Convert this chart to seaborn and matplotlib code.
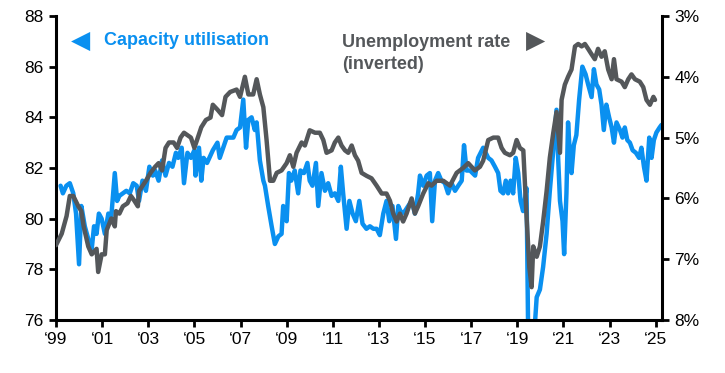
import matplotlib
matplotlib.use("Agg")
import matplotlib.pyplot as plt
import seaborn as sns

# Capacity utilisation (%), left axis
cu_years = [
    1999.2, 1999.3, 1999.45, 1999.6, 1999.75, 1999.87, 2000.0, 2000.1, 2000.25, 2000.4,
    2000.55, 2000.65, 2000.76, 2000.86, 2000.98, 2001.12, 2001.27, 2001.4, 2001.55, 2001.65,
    2001.75, 2001.9, 2002.05, 2002.2, 2002.35, 2002.5, 2002.6, 2002.75, 2002.9, 2003.05,
    2003.2, 2003.3, 2003.45, 2003.6, 2003.75, 2003.9, 2004.05, 2004.2, 2004.3, 2004.45,
    2004.55, 2004.7, 2004.85, 2005.0, 2005.05, 2005.2, 2005.3, 2005.4, 2005.55, 2005.8,
    2006.0, 2006.1, 2006.25, 2006.4, 2006.54, 2006.69, 2006.83, 2006.98, 2007.12, 2007.24,
    2007.34, 2007.48, 2007.62, 2007.7, 2007.84, 2007.99, 2008.06, 2008.2, 2008.35, 2008.49,
    2008.64, 2008.78, 2008.85, 2009.0, 2009.1, 2009.2, 2009.35, 2009.5, 2009.6, 2009.75,
    2009.9, 2010.0, 2010.12, 2010.27, 2010.37, 2010.51, 2010.66, 2010.8, 2010.95, 2011.09,
    2011.24, 2011.35, 2011.45, 2011.6, 2011.72, 2011.86, 2012.0, 2012.15, 2012.29, 2012.46,
    2012.61, 2012.76, 2012.9, 2013.04, 2013.19, 2013.33, 2013.45, 2013.59, 2013.74, 2013.84,
    2013.98, 2014.13, 2014.27, 2014.42, 2014.56, 2014.7, 2014.78, 2014.92, 2015.07, 2015.21,
    2015.31, 2015.43, 2015.57, 2015.71, 2015.86, 2016.0, 2016.15, 2016.3, 2016.44, 2016.59,
    2016.69, 2016.8, 2016.95, 2017.17, 2017.3, 2017.52, 2017.74, 2017.88, 2018.03, 2018.17,
    2018.27, 2018.39, 2018.5, 2018.6, 2018.71, 2018.82, 2018.93, 2019.04, 2019.14, 2019.25,
    2019.4, 2019.47, 2019.55, 2019.68, 2019.76, 2019.84, 2019.98, 2020.12, 2020.27, 2020.41,
    2020.56, 2020.7, 2020.77, 2020.85, 2020.96, 2021.03, 2021.13, 2021.2, 2021.27, 2021.35,
    2021.45, 2021.56, 2021.68, 2021.82, 2021.96, 2022.07, 2022.22, 2022.32, 2022.43, 2022.55,
    2022.65, 2022.75, 2022.86, 2022.98, 2023.09, 2023.19, 2023.3, 2023.45, 2023.56, 2023.66,
    2023.77, 2023.88, 2024.0, 2024.14, 2024.28, 2024.38, 2024.49, 2024.6, 2024.72, 2024.82,
    2024.92, 2025.03, 2025.17, 2025.25,
]
cu_values = [
    81.3, 81.0, 81.3, 81.4, 81.0, 80.2, 78.2, 80.5, 79.7, 79.2,
    78.8, 79.7, 79.4, 80.2, 80.0, 79.4, 80.2, 80.1, 81.8, 80.7,
    80.9, 81.0, 81.1, 81.0, 81.4, 81.3, 80.7, 81.5, 81.1, 82.05,
    81.7, 81.9, 81.5, 82.3, 81.7, 82.2, 82.05, 82.6, 82.4, 82.8,
    81.4, 82.6, 82.4, 82.7, 81.7, 82.8, 81.5, 82.4, 82.2, 82.7,
    83.0, 82.4, 82.8, 83.2, 83.2, 83.2, 83.5, 83.6, 84.7, 82.8,
    83.9, 84.0, 83.5, 83.8, 82.3, 81.5, 81.3, 80.5, 79.7, 79.0,
    79.3, 79.4, 80.5, 79.9, 81.8, 81.5, 81.9, 81.0, 81.9, 81.8,
    82.2, 81.5, 81.3, 82.2, 80.5, 81.8, 81.1, 81.4, 80.9, 81.0,
    80.7, 82.05, 81.0, 79.6, 80.7, 80.2, 79.9, 80.7, 79.8, 79.6,
    79.7, 79.6, 79.6, 79.35, 80.2, 80.7, 79.9, 80.5, 79.2, 80.5,
    80.2, 80.3, 80.5, 80.7, 80.2, 81.0, 81.7, 81.3, 81.7, 81.8,
    79.9, 81.5, 81.8, 81.5, 81.4, 81.0, 81.4, 81.1, 81.3, 81.5,
    82.9, 81.9, 81.9, 81.7, 82.4, 82.8, 82.4, 82.3, 82.05, 81.8,
    81.1, 81.0, 81.5, 81.0, 81.5, 81.0, 82.4, 81.8, 80.7, 80.3,
    81.2, 75.5, 73.0, 73.5, 75.8, 76.9, 77.2, 78.1, 79.4, 81.1,
    82.7, 84.3, 82.4, 80.7, 79.9, 78.6, 81.0, 83.8, 82.7, 81.8,
    82.9, 83.3, 84.7, 86.0, 85.7, 85.3, 84.8, 85.9, 85.3, 85.1,
    84.5, 83.5, 84.5, 84.0, 83.6, 83.0, 83.8, 83.5, 83.2, 83.6,
    83.1, 83.0, 82.7, 82.6, 82.4, 82.8, 82.05, 81.5, 83.2, 82.4,
    83.1, 83.4, 83.6, 83.7,
]

# Unemployment rate (%), right axis (inverted)
ur_years = [
    1999.0, 1999.25, 1999.46, 1999.6, 1999.75, 1999.97, 2000.1, 2000.2, 2000.4, 2000.55,
    2000.76, 2000.83, 2000.98, 2001.12, 2001.2, 2001.4, 2001.55, 2001.6, 2001.75, 2001.9,
    2002.1, 2002.25, 2002.4, 2002.55, 2002.6, 2002.9, 2003.1, 2003.3, 2003.45, 2003.6,
    2003.75, 2003.9, 2004.1, 2004.25, 2004.4, 2004.55, 2004.7, 2004.85, 2005.0, 2005.15,
    2005.3, 2005.5, 2005.7, 2005.8, 2006.0, 2006.2, 2006.35, 2006.55, 2006.83, 2006.98,
    2007.19, 2007.34, 2007.55, 2007.7, 2007.84, 2007.99, 2008.13, 2008.28, 2008.42, 2008.57,
    2008.78, 2009.0, 2009.14, 2009.29, 2009.43, 2009.65, 2009.79, 2010.0, 2010.23, 2010.44,
    2010.59, 2010.73, 2010.95, 2011.09, 2011.24, 2011.38, 2011.53, 2011.67, 2011.82, 2011.96,
    2012.1, 2012.25, 2012.47, 2012.68, 2012.9, 2013.12, 2013.33, 2013.48, 2013.62, 2013.77,
    2013.91, 2014.05, 2014.2, 2014.42, 2014.56, 2014.7, 2014.92, 2015.14, 2015.28, 2015.5,
    2015.79, 2016.08, 2016.37, 2016.65, 2016.87, 2017.16, 2017.38, 2017.52, 2017.74, 2017.96,
    2018.17, 2018.32, 2018.46, 2018.68, 2018.82, 2018.97, 2019.11, 2019.26, 2019.33, 2019.4,
    2019.52, 2019.62, 2019.69, 2019.84, 2019.98, 2020.12, 2020.27, 2020.41, 2020.56, 2020.7,
    2020.85, 2020.92, 2021.06, 2021.2, 2021.35, 2021.5, 2021.64, 2021.79, 2021.93, 2022.07,
    2022.22, 2022.36, 2022.5, 2022.65, 2022.79, 2022.94, 2023.09, 2023.19, 2023.3, 2023.52,
    2023.66, 2023.81, 2023.95, 2024.1, 2024.31, 2024.46, 2024.6, 2024.75, 2024.9, 2024.97,
]
ur_values = [
    6.77, 6.58, 6.29, 5.96, 5.96, 6.13, 6.21, 6.46, 6.79, 6.92,
    6.83, 7.21, 6.92, 6.92, 6.52, 6.33, 6.46, 6.21, 6.25, 6.13,
    6.08, 5.96, 6.04, 6.13, 5.88, 5.71, 5.58, 5.48, 5.42, 5.54,
    5.17, 5.08, 5.08, 5.17, 5.0, 4.92, 4.96, 5.0, 5.17, 5.0,
    4.83, 4.71, 4.67, 4.46, 4.54, 4.63, 4.33, 4.25, 4.21, 4.33,
    4.0, 4.29, 4.29, 4.04, 4.29, 4.5, 5.04, 5.71, 5.71, 5.58,
    5.54, 5.42, 5.29, 5.48, 5.25, 5.08, 5.13, 4.88, 4.92, 4.92,
    5.04, 5.25, 5.21, 5.08, 5.0, 5.13, 5.21, 5.25, 5.13, 5.29,
    5.38, 5.58, 5.63, 5.67, 5.79, 5.92, 5.92, 6.04, 6.25, 6.38,
    6.25, 6.38, 6.25, 6.0, 6.25, 6.13, 5.92, 5.75, 5.79, 5.71,
    5.71, 5.79, 5.58, 5.5, 5.42, 5.54, 5.48, 5.38, 5.04, 5.0,
    5.0, 5.17, 5.25, 5.29, 5.25, 5.04, 5.17, 5.21, 5.75, 6.29,
    7.13, 7.46, 6.79, 6.96, 6.79, 6.38, 5.88, 5.33, 4.92, 4.58,
    5.25, 4.38, 4.13, 4.0, 3.88, 3.5, 3.46, 3.5, 3.46, 3.54,
    3.63, 3.71, 3.54, 3.67, 3.58, 3.88, 4.04, 3.71, 4.04, 4.08,
    4.17, 4.04, 3.96, 4.04, 4.08, 4.17, 4.38, 4.46, 4.33, 4.38,
]

tick_years = list(range(1999, 2026, 2))
tick_labels = ["\u2018" + str(y)[-2:] for y in tick_years]
left_ticks = [76, 78, 80, 82, 84, 86, 88]
right_ticks = [3, 4, 5, 6, 7, 8]

BLUE = "#0A90F0"
GREY = "#54575A"

sns.set_style("ticks")
plt.rcParams["font.family"] = ["Liberation Sans", "DejaVu Sans"]

fig = plt.figure(figsize=(7.25, 3.73), dpi=100)
ax = fig.add_axes([0.0772, 0.1421, 0.8355, 0.815])
ax2 = ax.twinx()

sns.lineplot(x=cu_years, y=cu_values, ax=ax, color=BLUE, linewidth=3.2)
sns.lineplot(x=ur_years, y=ur_values, ax=ax2, color=GREY, linewidth=3.2)

ax.set_xlim(1999, 2025.26)
ax.set_ylim(76, 88)
ax2.set_ylim(8, 3)

ax.set_xticks(tick_years)
ax.set_xticklabels(tick_labels)
ax.set_yticks(left_ticks)
ax2.set_yticks(right_ticks)
ax2.set_yticklabels([f"{t}%" for t in right_ticks])

for a in (ax, ax2):
    a.spines["top"].set_visible(False)
    for s in ("left", "right", "bottom"):
        a.spines[s].set_linewidth(2.2)
        a.spines[s].set_color("black")
    a.tick_params(axis="both", length=5, width=2, labelsize=12.5, colors="black", pad=4)
    a.set_xlabel("")
    a.set_ylabel("")
ax.spines["right"].set_visible(False)
ax2.spines["left"].set_visible(False)
ax2.spines["bottom"].set_visible(False)

# legend-style annotations
ax.text(0.024, 0.918, "\u25C0", transform=ax.transAxes, color=BLUE, fontsize=18,
        ha="left", va="center", family=["DejaVu Sans"])
ax.text(0.079, 0.918, "Capacity utilisation", transform=ax.transAxes, color=BLUE,
        fontsize=13, fontweight="bold", ha="left", va="center")
ax.text(0.472, 0.914, "Unemployment rate", transform=ax.transAxes, color=GREY,
        fontsize=13, fontweight="bold", ha="left", va="center")
ax.text(0.472, 0.842, "(inverted)", transform=ax.transAxes, color=GREY,
        fontsize=13, fontweight="bold", ha="left", va="center")
ax.text(0.776, 0.918, "\u25B6", transform=ax.transAxes, color=GREY, fontsize=18,
        ha="left", va="center", family=["DejaVu Sans"])

fig.savefig("out.png", dpi=100)
